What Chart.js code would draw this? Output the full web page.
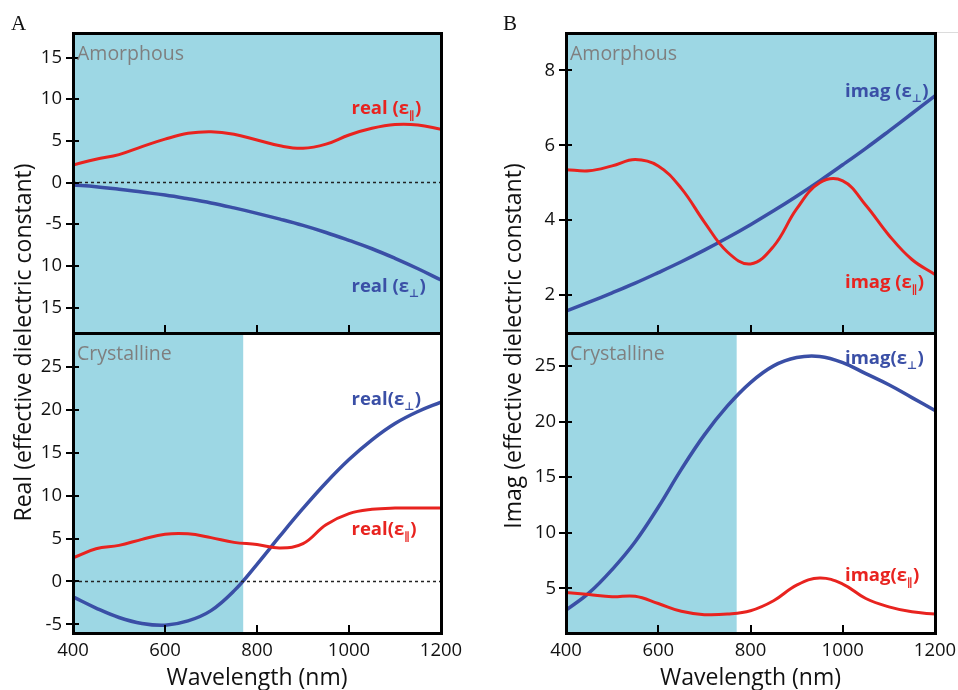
<!DOCTYPE html>
<html><head><meta charset="utf-8">
<script src="https://cdn.jsdelivr.net/npm/chart.js@4.4.1/dist/chart.umd.min.js"></script>
<style>
html,body{margin:0;padding:0;background:#fff;}
#wrap{position:relative;width:958px;height:690px;overflow:hidden;background:#fff;}
#wrap canvas{position:absolute;left:0;top:0;}
.lbl{position:absolute;font-family:"Liberation Serif";font-size:21px;line-height:21px;color:#111;}
</style></head><body>
<div id="wrap">
<canvas id="cA1" width="958" height="690"></canvas>
<canvas id="cA2" width="958" height="690"></canvas>
<canvas id="cB1" width="958" height="690"></canvas>
<canvas id="cB2" width="958" height="690"></canvas>
<div class="lbl" style="left:11px;top:13px">A</div>
<div class="lbl" style="left:503px;top:13px">B</div>
</div>
<script>
// ---------- data ----------
const wavelengths = [400,450,500,550,600,650,700,750,800,850,900,950,1000,1050,1100,1150,1200];
const amorphousRealPar   = [2.1,2.8,3.35,4.3,5.2,5.9,6.1,5.8,5.1,4.4,4.1,4.6,5.7,6.5,6.95,6.9,6.4];
const amorphousRealPerp  = [-0.3,-0.5,-0.8,-1.15,-1.5,-1.95,-2.45,-3.05,-3.7,-4.4,-5.15,-6.0,-6.95,-7.95,-9.1,-10.35,-11.7];
const crystallineRealPar = [2.75,3.8,4.2,4.9,5.5,5.55,5.1,4.55,4.3,3.9,4.4,6.6,7.9,8.4,8.55,8.55,8.55];
const crystallineRealPerp= [-1.8,-3.1,-4.2,-4.9,-5.1,-4.6,-3.4,-1.1,2.0,5.3,8.5,11.5,14.2,16.5,18.4,19.8,20.9];
const amorphousImagPar   = [5.35,5.32,5.45,5.62,5.45,4.85,3.95,3.15,2.83,3.3,4.3,5.0,5.05,4.4,3.6,2.95,2.55];
const amorphousImagPerp  = [1.57,1.81,2.06,2.32,2.6,2.89,3.2,3.53,3.88,4.25,4.64,5.05,5.48,5.92,6.38,6.85,7.32];
const crystallineImagPar = [4.65,4.45,4.25,4.3,3.65,2.95,2.65,2.7,3.0,3.9,5.3,5.95,5.4,4.1,3.35,2.9,2.7];
const crystallineImagPerp= [3.05,4.6,6.7,9.2,12.3,15.7,18.8,21.4,23.5,25.0,25.75,25.85,25.3,24.3,23.3,22.15,21.0];
const zeroLine = [0,0,0,0,0,0,0,0,0,0,0,0,0,0,0,0,0];

const xTickValues = [400,600,800,1000,1200];
const xTickLabels = ['400','600','800','1000','1200'];
const aTopTicks  = [-15,-10,-5,0,5,10,15];
const aTopLabels = ['15','10','-5','0','5','10','15'];
const aBotTicks  = [-5,0,5,10,15,20,25];
const aBotLabels = ['-5','0','5','10','15','20','25'];
const bTopTicks  = [2,4,6,8];
const bTopLabels = ['2','4','6','8'];
const bBotTicks  = [5,10,15,20,25];
const bBotLabels = ['5','10','15','20','25'];
const crystallineShadeEnd = 770;

// ---------- styles ----------
const RED = '#e8231f', BLUE = '#3a4fa6', SHADE = '#9dd7e4', GRAY = '#7f7f7f', INK = '#000000';
const FONT = 'Open Sans';
const Y_AXIS_W = 60;

const panelDeco = {
  id: 'panelDeco',
  beforeDatasetsDraw(chart, args, o) {
    const {ctx, chartArea: a, scales: {x}} = chart;
    ctx.save();
    ctx.fillStyle = SHADE;
    const xr = o.shadeTo != null ? x.getPixelForValue(o.shadeTo) : a.right;
    ctx.fillRect(a.left, a.top, xr - a.left, a.bottom - a.top);
    ctx.restore();
  },
  afterDraw(chart, args, o) {
    const {ctx, chartArea: a, scales: {x, y}} = chart;
    ctx.save();
    ctx.setLineDash([]);
    ctx.globalAlpha = 1;
    ctx.globalCompositeOperation = 'source-over';
    const L = Math.round(a.left), R = Math.round(a.right), T = Math.round(a.top), B = Math.round(a.bottom);
    ctx.fillStyle = '#000000';
    // frame
    ctx.fillRect(L - 1, T - 1, R - L + 3, 3);
    ctx.fillRect(L - 1, B - 1, R - L + 3, 3);
    ctx.fillRect(L - 1, T - 1, 3, B - T + 3);
    ctx.fillRect(R - 1, T - 1, 3, B - T + 3);
    // ticks
    xTickValues.forEach(v => {
      const px = Math.round(x.getPixelForValue(v));
      ctx.fillRect(px - 1, B - 8, 2, 9);
    });
    o.yTicks.forEach(v => {
      const py = Math.round(y.getPixelForValue(v));
      ctx.fillRect(L - 7, py - 1, 13, 2);
    });
    if (o.extraLine) {
      ctx.fillStyle = '#dcdcdc';
      ctx.fillRect(R + 2, T - 1, 958 - R, 1);
    }
    // phase label
    ctx.fillStyle = GRAY;
    ctx.font = `19.5px "${FONT}"`;
    ctx.textBaseline = 'alphabetic'; ctx.textAlign = 'left';
    ctx.fillText(o.phase, a.left + 4, o.phaseY);
    // curve labels
    (o.labels || []).forEach(l => {
      ctx.fillStyle = l.color;
      ctx.font = `bold 18.5px "${FONT}"`;
      let cx = l.x;
      ctx.fillText(l.head, cx, l.y); cx += ctx.measureText(l.head).width;
      ctx.font = `bold 11px "DejaVu Sans"`;
      ctx.fillText(l.sub, cx, l.y + 5); cx += ctx.measureText(l.sub).width;
      ctx.font = `bold 18.5px "${FONT}"`;
      ctx.fillText(')', cx + 0.5, l.y);
    });
    // y axis title
    if (o.yTitle) {
      ctx.fillStyle = '#111111';
      ctx.font = `23px "${FONT}"`;
      ctx.translate(o.yTitle.x, o.yTitle.y);
      ctx.rotate(-Math.PI / 2);
      ctx.textAlign = 'center';
      ctx.fillText(o.yTitle.text, 0, 0);
    }
    ctx.restore();
  }
};

function zeroPad(s) { s.paddingLeft = 0; s.paddingRight = 0; s.paddingTop = 0; s.paddingBottom = 0; }

function makePanel(id, cfg) {
  const xH = cfg.showX ? cfg.xAxisH : 0;
  return new Chart(document.getElementById(id), {
    type: 'line',
    data: {
      datasets: cfg.series.map(s => ({
        data: wavelengths.map((w, i) => ({x: w, y: s.values[i]})),
        borderColor: s.color, borderWidth: s.width, borderDash: s.dash || [],
        pointRadius: 0, tension: s.dash ? 0 : 0.4, fill: false
      }))
    },
    options: {
      responsive: false, animation: false, devicePixelRatio: 1,
      layout: {padding: {left: cfg.left - Y_AXIS_W, right: 958 - cfg.right, top: cfg.top, bottom: 690 - cfg.bottom - xH}},
      plugins: {
        legend: {display: false}, tooltip: {enabled: false},
        panelDeco: {shadeTo: cfg.shadeTo, yTicks: cfg.yTicks, labels: cfg.labels, phase: cfg.phase,
                    phaseY: cfg.phaseY, yTitle: cfg.yTitle, extraLine: cfg.extraLine}
      },
      scales: {
        x: {
          type: 'linear', min: 400, max: 1200,
          grid: {display: false, drawTicks: false, tickLength: 0}, border: {display: false},
          afterBuildTicks: s => { s.ticks = xTickValues.map(v => ({value: v})); },
          afterFit: s => { s.height = xH; zeroPad(s); },
          ticks: {display: !!cfg.showX, autoSkip: false, maxRotation: 0, padding: 7, color: '#111111',
                  font: {family: FONT, size: 18.5}, callback: (v, i) => xTickLabels[i]},
          title: {display: !!cfg.showX, text: 'Wavelength (nm)', color: '#111111',
                  font: {family: FONT, size: 23, lineHeight: 1}, padding: {top: 0, bottom: 0.5}}
        },
        y: {
          type: 'linear', min: cfg.min, max: cfg.max,
          grid: {display: false, drawTicks: false, tickLength: 0}, border: {display: false},
          afterBuildTicks: s => { s.ticks = cfg.yTicks.map(v => ({value: v})); },
          afterFit: s => { s.width = Y_AXIS_W; zeroPad(s); },
          ticks: {padding: cfg.yPad, color: '#111111', font: {family: FONT, size: 18.5},
                  callback: (v, i) => cfg.yLabels[i]}
        }
      }
    },
    plugins: [panelDeco]
  });
}

makePanel('cA1', {
  left: 73, right: 441, top: 32.5, bottom: 332.5, min: -18, max: 18,
  yTicks: aTopTicks, yLabels: aTopLabels, yPad: 11, phase: 'Amorphous', phaseY: 60,
  series: [
    {values: zeroLine, color: '#222', width: 1.4, dash: [3, 3]},
    {values: amorphousRealPar, color: RED, width: 3},
    {values: amorphousRealPerp, color: BLUE, width: 3.5}
  ],
  labels: [
    {head: 'real (ε', sub: '∥', x: 351.5, y: 113.5, color: RED},
    {head: 'real (ε', sub: '⊥', x: 351.5, y: 291.5, color: BLUE}
  ]
});
makePanel('cA2', {
  left: 73, right: 441, top: 332.5, bottom: 632.5, min: -5.95, max: 29, showX: true, xAxisH: 57.5,
  yTicks: aBotTicks, yLabels: aBotLabels, yPad: 11, phase: 'Crystalline', phaseY: 359.5,
  shadeTo: crystallineShadeEnd,
  yTitle: {text: 'Real (effective dielectric constant)', x: 31, y: 342.5},
  series: [
    {values: zeroLine, color: '#222', width: 1.4, dash: [3, 3]},
    {values: crystallineRealPar, color: RED, width: 3},
    {values: crystallineRealPerp, color: BLUE, width: 3.5}
  ],
  labels: [
    {head: 'real(ε', sub: '⊥', x: 351.5, y: 404.5, color: BLUE},
    {head: 'real(ε', sub: '∥', x: 351.5, y: 535, color: RED}
  ]
});
makePanel('cB1', {
  left: 566, right: 935, top: 33, bottom: 332.5, min: 1, max: 9,
  yTicks: bTopTicks, yLabels: bTopLabels, yPad: 11, phase: 'Amorphous', phaseY: 60,
  extraLine: true,
  series: [
    {values: amorphousImagPar, color: RED, width: 3},
    {values: amorphousImagPerp, color: BLUE, width: 3.5}
  ],
  labels: [
    {head: 'imag (ε', sub: '⊥', x: 845, y: 96.5, color: BLUE},
    {head: 'imag (ε', sub: '∥', x: 845, y: 287.5, color: RED}
  ]
});
makePanel('cB2', {
  left: 566, right: 935, top: 332.5, bottom: 633, min: 1, max: 28, showX: true, xAxisH: 57,
  yTicks: bBotTicks, yLabels: bBotLabels, yPad: 10, phase: 'Crystalline', phaseY: 360,
  shadeTo: crystallineShadeEnd,
  yTitle: {text: 'Imag (effective dielectric constant)', x: 521, y: 346},
  series: [
    {values: crystallineImagPar, color: RED, width: 3},
    {values: crystallineImagPerp, color: BLUE, width: 3.5}
  ],
  labels: [
    {head: 'imag(ε', sub: '⊥', x: 845, y: 364, color: BLUE},
    {head: 'imag(ε', sub: '∥', x: 845, y: 580.5, color: RED}
  ]
});
</script>
</body></html>
